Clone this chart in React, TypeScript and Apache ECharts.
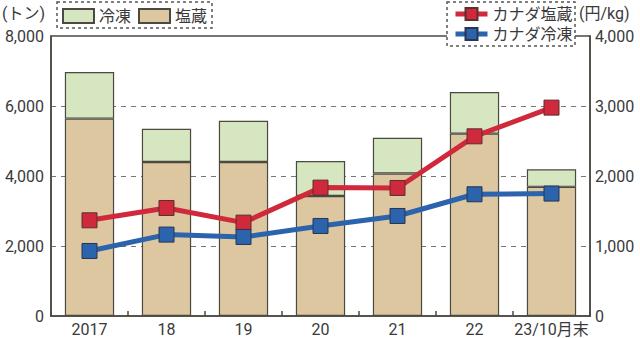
import React, { useEffect, useRef } from "react";
import * as echarts from "echarts";

const categories = ["2017", "18", "19", "20", "21", "22", "23/10月末"];
const salted = [5640, 4400, 4400, 3430, 4070, 5210, 3690];
const frozen = [1330, 950, 1180, 1000, 1020, 1190, 500];
const canadaSalted = [1367, 1543, 1334, 1834, 1829, 2567, 2977];
const canadaFrozen = [929, 1163, 1129, 1286, 1429, 1739, 1749];
const leftTicks = { min: 0, max: 8000, interval: 2000 };
const rightTicks = { min: 0, max: 4000, interval: 1000 };

const FONT = "Roboto, 'Noto Sans CJK JP', sans-serif";
const TEXT = "#3a3a3a";
const EDGE = "#4a4a40";

export default function App() {
  const ref = useRef<HTMLDivElement>(null);
  useEffect(() => {
    if (!ref.current) return;
    const chart = echarts.init(ref.current, null, { renderer: "svg" });
    chart.setOption({
      animation: false,
      backgroundColor: "#ffffff",
      textStyle: { fontFamily: FONT, color: TEXT },
      grid: {
        left: 51,
        right: 50,
        top: 36,
        bottom: 22,
        show: true,
        borderColor: EDGE,
        borderWidth: 1.5,
        backgroundColor: "transparent",
        containLabel: false,
      },
      legend: [
        {
          data: [
            { name: "冷凍", icon: "rect" },
            { name: "塩蔵", icon: "rect" },
          ],
          left: 62,
          top: 8,
          itemWidth: 31,
          itemHeight: 14,
          itemGap: 7,
          z: 20,
          textStyle: { fontSize: 16, color: TEXT, fontFamily: FONT },
          padding: 0,
        },
        {
          data: ["カナダ塩蔵", "カナダ冷凍"],
          left: 453,
          top: 6,
          orient: "vertical",
          itemWidth: 32,
          itemHeight: 15,
          itemGap: 4,
          z: 20,
          lineStyle: { width: 5 },
          textStyle: { fontSize: 16, color: TEXT, fontFamily: FONT },
          padding: 0,
        },
      ],
      graphic: [
        {
          type: "rect",
          z: 10,
          shape: { x: 57, y: 2, width: 155, height: 26 },
          style: { fill: "#ffffff", stroke: "#555", lineWidth: 1.5, lineDash: [3, 3] },
        },
        {
          type: "rect",
          z: 10,
          shape: { x: 447, y: 2, width: 128, height: 44 },
          style: { fill: "#ffffff", stroke: "#555", lineWidth: 1.5, lineDash: [3, 3] },
        },
        {
          type: "text",
          z: 10,
          left: 2,
          top: 5,
          style: { text: "(トン)", fontSize: 16, fill: TEXT, fontFamily: FONT },
        },
        {
          type: "text",
          z: 10,
          left: 579,
          top: 5,
          style: { text: "(円/kg)", fontSize: 16, fill: TEXT, fontFamily: FONT },
        },
      ],
      xAxis: {
        type: "category",
        data: categories,
        boundaryGap: true,
        axisLine: { show: true, lineStyle: { color: EDGE, width: 1.5 } },
        axisTick: { show: true, inside: true, length: 5, interval: 0, lineStyle: { color: EDGE, width: 1.5 } },
        axisLabel: { fontSize: 16, color: TEXT, margin: 5, interval: 0, fontFamily: FONT },
      },
      yAxis: [
        {
          type: "value",
          min: leftTicks.min,
          max: leftTicks.max,
          interval: leftTicks.interval,
          axisLine: { show: true, lineStyle: { color: EDGE, width: 1.5 } },
          axisTick: { show: false },
          axisLabel: {
            fontSize: 16,
            color: TEXT,
            margin: 7,
            fontFamily: FONT,
            formatter: (v: number) => v.toLocaleString("en-US"),
          },
          splitLine: { show: true, lineStyle: { color: "#777", width: 1.2, type: [5, 5] } },
        },
        {
          type: "value",
          min: rightTicks.min,
          max: rightTicks.max,
          interval: rightTicks.interval,
          position: "right",
          axisLine: { show: true, lineStyle: { color: EDGE, width: 1.5 } },
          axisTick: { show: false },
          axisLabel: {
            fontSize: 16,
            color: TEXT,
            margin: 5,
            fontFamily: FONT,
            formatter: (v: number) => v.toLocaleString("en-US"),
          },
          splitLine: { show: false },
        },
      ],
      series: [
        {
          name: "塩蔵",
          type: "bar",
          stack: "total",
          data: salted,
          barCategoryGap: "36%",
          itemStyle: { color: "#dcc7a1", borderColor: EDGE, borderWidth: 1.2 },
        },
        {
          name: "冷凍",
          type: "bar",
          stack: "total",
          data: frozen,
          barCategoryGap: "36%",
          itemStyle: { color: "#d6e6c0", borderColor: EDGE, borderWidth: 1.2 },
        },
        {
          name: "カナダ塩蔵",
          type: "line",
          yAxisIndex: 1,
          data: canadaSalted,
          symbol: "rect",
          symbolSize: 15,
          lineStyle: { color: "#d0293b", width: 5 },
          itemStyle: { color: "#d0293b", borderColor: "#5a3030", borderWidth: 1 },
          z: 5,
        },
        {
          name: "カナダ冷凍",
          type: "line",
          yAxisIndex: 1,
          data: canadaFrozen,
          symbol: "rect",
          symbolSize: 15,
          lineStyle: { color: "#2b63ad", width: 5 },
          itemStyle: { color: "#2b63ad", borderColor: "#2a3550", borderWidth: 1 },
          z: 5,
        },
      ],
    });
    return () => chart.dispose();
  }, []);
  return <div ref={ref} style={{ width: 640, height: 338, position: "absolute", left: 0, top: 0 }} />;
}
